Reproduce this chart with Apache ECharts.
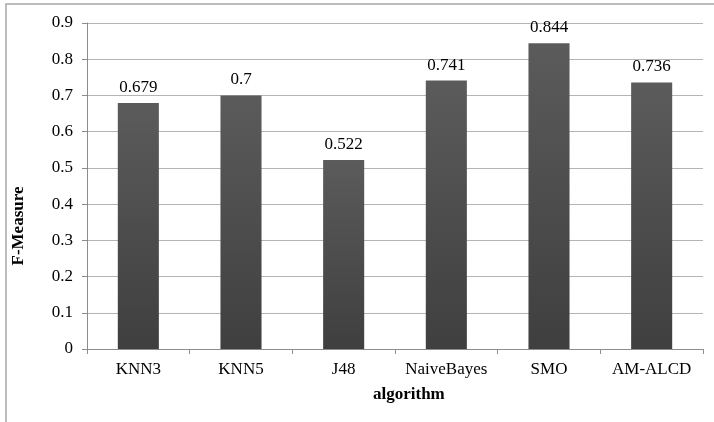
<!DOCTYPE html>
<html>
<head>
<meta charset="utf-8">
<script src="https://cdn.jsdelivr.net/npm/echarts@6/dist/echarts.min.js"></script>
<style>
  html, body { margin: 0; padding: 0; background: #ffffff; }
  #chart { width: 714px; height: 422px; }
</style>
</head>
<body>
<div id="chart"></div>
<script>
// Algorithms compared and their F-Measure scores
const categories = ['KNN3', 'KNN5', 'J48', 'NaiveBayes', 'SMO', 'AM-ALCD'];
const fMeasure = [0.679, 0.7, 0.522, 0.741, 0.844, 0.736];
const yTicks = { min: 0, max: 0.9, interval: 0.1 };

const serif = '"Liberation Serif", "Times New Roman", serif';
const chart = echarts.init(document.getElementById('chart'));

chart.setOption({
  animation: false,
  backgroundColor: '#ffffff',
  grid: { left: 87, right: 11, top: 23, bottom: 73 },
  graphic: [
    {
      type: 'rect',
      shape: { x: 6, y: 4, width: 740, height: 440 },
      style: { fill: 'none', stroke: '#a8a8a8', lineWidth: 1.5 },
      z: 0
    },
    {
      type: 'text',
      left: 373, top: 386,
      style: { text: 'algorithm', font: 'bold 17px ' + serif, fill: '#000' }
    },
    {
      type: 'text',
      x: 10, y: 226,
      rotation: Math.PI / 2,
      style: { text: 'F-Measure', font: 'bold 17px ' + serif, fill: '#000', align: 'center', verticalAlign: 'top' }
    }
  ],
  xAxis: {
    type: 'category',
    data: categories,
    axisLine: { lineStyle: { color: '#8c8c8c', width: 1 } },
    axisTick: { show: true, alignWithLabel: false, interval: 0, length: 5, lineStyle: { color: '#8c8c8c' } },
    axisLabel: { color: '#000', fontFamily: serif, fontSize: 17, margin: 12, interval: 0 }
  },
  yAxis: {
    type: 'value',
    min: yTicks.min,
    max: yTicks.max,
    interval: yTicks.interval,
    axisLine: { show: true, lineStyle: { color: '#8c8c8c', width: 1 } },
    axisTick: { show: true, length: 5, lineStyle: { color: '#8c8c8c' } },
    axisLabel: {
      color: '#000', fontFamily: serif, fontSize: 17, margin: 14,
      formatter: v => (Math.round(v * 10) / 10).toString()
    },
    splitLine: { show: true, lineStyle: { color: '#b4b4b4', width: 1 } }
  },
  series: [{
    type: 'bar',
    data: fMeasure,
    barWidth: '40%',
    itemStyle: {
      color: new echarts.graphic.LinearGradient(0, 0, 0, 1, [
        { offset: 0, color: '#5b5b5b' },
        { offset: 1, color: '#3f3f3f' }
      ])
    },
    label: {
      show: true,
      position: 'top',
      distance: 7,
      color: '#000',
      fontFamily: serif,
      fontSize: 17,
      formatter: p => String(p.value)
    }
  }]
});
</script>
</body>
</html>
